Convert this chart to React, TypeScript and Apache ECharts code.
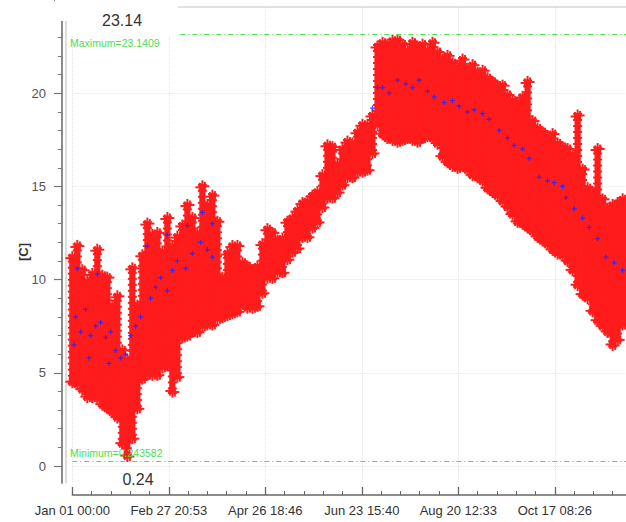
import React, { useEffect, useRef } from "react";
import * as echarts from "echarts";

// ---- data ----
const xTickLabels = ["Jan 01 00:00", "Feb 27 20:53", "Apr 26 18:46", "Jun 23 15:40", "Aug 20 12:33", "Oct 17 08:26"];
const TICK_SECONDS = 5000000;
const SECONDS_PER_DAY = 86400;
const STEP_DAYS = 3;
const X_MAX_DAYS = 365;

const days = [0, 3, 6, 9, 12, 15, 18, 21, 24, 27, 30, 33, 36, 39, 42, 45, 48, 51, 54, 57, 60, 63, 66, 69, 72, 75, 78, 81, 84, 87, 90, 93, 96, 99, 102, 105, 108, 111, 114, 117, 120, 123, 126, 129, 132, 135, 138, 141, 144, 147, 150, 153, 156, 159, 162, 165, 168, 171, 174, 177, 180, 183, 186, 189, 192, 195, 198, 201, 204, 207, 210, 213, 216, 219, 222, 225, 228, 231, 234, 237, 240, 243, 246, 249, 252, 255, 258, 261, 264, 267, 270, 273, 276, 279, 282, 285, 288, 291, 294, 297, 300, 303, 306, 309, 312, 315, 318, 321, 324, 327, 330, 333];

const lows = [4.2, 4.1, 3.8, 3.4, 3.4, 3.4, 3.0, 2.8, 2.6, 2.3, 0.9, 0.24, 1.2, 2.8, 4.4, 4.6, 4.6, 4.6, 5.0, 5.1, 3.7, 4.5, 6.6, 6.7, 6.9, 6.9, 7.2, 7.3, 7.3, 7.6, 7.7, 7.8, 7.9, 8.0, 8.4, 8.2, 8.2, 8.3, 9.0, 9.8, 9.8, 10.1, 10.1, 10.8, 11.2, 11.4, 12.0, 12.0, 12.5, 12.8, 13.6, 14.1, 14.1, 14.4, 14.8, 15.2, 15.2, 15.5, 15.5, 15.6, 16.5, 18.0, 17.5, 17.3, 17.2, 17.1, 17.2, 17.3, 17.2, 17.1, 17.3, 17.4, 17.3, 17.0, 16.3, 16.0, 15.8, 15.7, 15.8, 15.6, 15.3, 15.2, 15.0, 14.6, 14.4, 14.2, 13.9, 13.6, 13.2, 12.8, 12.7, 12.5, 12.3, 12.0, 11.8, 11.6, 11.3, 11.1, 11.0, 10.7, 10.2, 9.4, 8.9, 8.7, 8.0, 7.5, 7.2, 6.9, 6.2, 6.5, 7.3, 7.5];

const highs = [11.5, 12.1, 10.8, 10.2, 10.6, 11.9, 10.5, 10.4, 8.9, 9.4, 6.5, 6.0, 10.9, 8.9, 11.6, 13.3, 12.7, 12.8, 11.8, 13.6, 12.1, 12.6, 13.2, 14.3, 13.6, 12.8, 15.3, 14.3, 14.8, 13.4, 10.4, 11.7, 12.1, 12.1, 11.2, 11.0, 10.8, 11.0, 12.2, 13.0, 12.8, 12.4, 12.5, 13.4, 13.6, 14.0, 14.4, 14.5, 14.8, 15.0, 15.9, 17.5, 17.4, 16.5, 17.3, 17.7, 17.6, 18.2, 18.6, 18.6, 19.1, 22.8, 23.0, 22.9, 23.1, 23.14, 22.9, 22.6, 23.0, 22.8, 22.9, 22.6, 23.0, 22.5, 22.1, 22.3, 21.9, 21.7, 22.1, 21.6, 21.8, 21.4, 21.5, 21.1, 20.9, 20.7, 20.7, 20.2, 19.9, 19.8, 20.1, 20.9, 18.8, 18.4, 18.2, 18.0, 18.1, 17.6, 17.4, 17.3, 17.0, 19.1, 16.2, 15.2, 15.0, 17.3, 14.6, 14.1, 14.3, 14.4, 14.6, 14.5];

const meanDays = [1, 2, 3, 5, 8, 10, 11, 14, 15, 17, 20, 22, 23, 26, 29, 32, 35, 38, 41, 45, 47, 50, 53, 57, 57, 60, 63, 68, 69, 72, 77, 78, 81, 84, 84, 180, 183, 186, 190, 195, 200, 204, 208, 213, 217, 223, 228, 232, 237, 241, 246, 250, 256, 261, 265, 270, 274, 280, 285, 289, 294, 296, 301, 306, 310, 315, 320, 325, 330];
const meanValues = [6.5, 8.0, 10.6, 7.2, 8.4, 5.8, 7.0, 7.5, 10.3, 7.7, 6.9, 5.5, 7.2, 6.2, 5.8, 6.0, 7.0, 7.5, 8.0, 11.8, 9.0, 9.6, 10.1, 9.4, 12.4, 10.5, 11.0, 10.6, 12.9, 11.4, 12.0, 13.6, 11.6, 11.2, 13.0, 19.2, 20.3, 20.3, 20.0, 20.7, 20.5, 20.3, 20.7, 20.1, 19.8, 19.5, 19.6, 19.3, 19.0, 19.1, 18.9, 18.6, 18.0, 17.6, 17.2, 17.0, 16.5, 15.5, 15.3, 15.2, 15.0, 14.4, 13.8, 13.3, 12.8, 12.2, 11.2, 10.9, 10.5];

const maxValue = 23.1409;
const minValue = 0.243582;

// ---- styling constants ----
const RED = "#ff1c1c";
const BLUE = "#2626ff";
const GREEN = "#4fdc4f";
const FONT = "Liberation Sans, Arial, sans-serif";

function plus(cx: number, cy: number) {
  return [
    { type: "rect", shape: { x: cx - 4.5, y: cy - 1, width: 9, height: 2 }, style: { fill: RED } },
    { type: "rect", shape: { x: cx - 1, y: cy - 4.5, width: 2, height: 9 }, style: { fill: RED } },
  ];
}

export default function App() {
  const ref = useRef<HTMLDivElement>(null);

  useEffect(() => {
    if (!ref.current) return;
    const chart = echarts.init(ref.current, null, { renderer: "svg" });

    const bandData = days.map((d, i) => [d * SECONDS_PER_DAY, lows[i], highs[i]]);
    const meanData = meanDays.map((d, i) => [d * SECONDS_PER_DAY, meanValues[i]]);
    const xMax = X_MAX_DAYS * SECONDS_PER_DAY;

    const xFormatter = (v: number) => {
      if (Math.abs(v % TICK_SECONDS) > 1e-6) return "";
      return xTickLabels[Math.round(v / TICK_SECONDS)] ?? "";
    };

    const option: any = {
      animation: false,
      textStyle: { fontFamily: FONT },
      grid: [
        { left: 72.3, right: 39, top: 7, bottom: 39 },
        { left: 72.3, right: 39, top: 0, bottom: 56 },
      ],
      xAxis: [
        {
          type: "value", gridIndex: 0, min: 0, max: xMax, interval: TICK_SECONDS, offset: 12,
          axisLine: { onZero: false, lineStyle: { color: "#666", width: 1.5 } },
          axisTick: { inside: true, length: 8, lineStyle: { color: "#666", width: 1.3 } },
          minorTick: { show: true, splitNumber: 5, length: 4, lineStyle: { color: "#666", width: 1 } },
          axisLabel: { formatter: xFormatter, color: "#333", fontSize: 13, margin: 9, showMaxLabel: false },
          splitLine: { show: true, lineStyle: { color: "#e2e2e2", type: "dotted" } },
        },
        { type: "value", gridIndex: 1, min: 0, max: xMax, show: false },
      ],
      yAxis: [
        {
          type: "value", gridIndex: 0, min: -0.912, max: 24.624, offset: 10.3,
          axisLine: { show: true, onZero: false, lineStyle: { color: "#8a8a8a", width: 2 } },
          axisTick: { show: false }, axisLabel: { show: false }, splitLine: { show: false },
        },
        {
          type: "value", gridIndex: 1, min: 0, max: 25, interval: 5, offset: 10.3,
          axisLine: { show: false, onZero: false },
          axisTick: { show: true, length: 8, lineStyle: { color: "#777", width: 1.2 } },
          minorTick: { show: true, splitNumber: 5, length: 4, lineStyle: { color: "#777", width: 1 } },
          axisLabel: { color: "#555", fontSize: 13, margin: 16, showMaxLabel: false },
          splitLine: { show: true, showMaxLine: false, lineStyle: { color: "#e6e6e6", type: "dotted" } },
        },
      ],
      series: [
        {
          type: "custom",
          xAxisIndex: 0, yAxisIndex: 0,
          silent: true,
          z: 2,
          encode: { x: 0, y: [1, 2] },
          data: bandData,
          renderItem: (params: any, api: any) => {
            const x = api.value(0);
            const lo = api.value(1);
            const hi = api.value(2);
            const pTop = api.coord([x, hi]);
            const pBot = api.coord([x, lo]);
            const w = api.size([STEP_DAYS * SECONDS_PER_DAY, 0])[0];
            const cx = pTop[0];
            let top = pTop[1] + 4;
            let bot = pBot[1] - 4;
            if (bot < top) { const m = (top + bot) / 2; top = m; bot = m; }
            const children: any[] = [
              { type: "rect", shape: { x: cx - w / 2 - 0.6, y: top, width: w + 1.2, height: bot - top }, style: { fill: RED } },
            ];
            for (let y = top; y < bot; y += 6) children.push(...plus(cx, y));
            children.push(...plus(cx, bot));
            children.push(...plus(cx - w / 2, top + 2.5), ...plus(cx + w / 2, top + 1.5));
            children.push(...plus(cx - w / 2, bot - 2), ...plus(cx + w / 2, bot - 1));
            return { type: "group", children };
          },
        },
        {
          type: "scatter",
          xAxisIndex: 0, yAxisIndex: 0,
          z: 3,
          symbol: "path://M3,0h2v3h3v2h-3v3h-2v-3h-3v-2h3z",
          symbolSize: 5,
          itemStyle: { color: BLUE, opacity: 0.85 },
          data: meanData,
          markLine: {
            silent: true,
            symbol: "none",
            label: { show: false },
            lineStyle: { color: GREEN, type: [5, 3, 1, 3], width: 1 },
            data: [{ yAxis: maxValue }, { yAxis: minValue }],
          },
        },
      ],
      graphic: [
        { type: "line", z: 1, shape: { x1: 66, y1: 7, x2: 720, y2: 7 }, style: { stroke: "#c4c4c4", lineWidth: 1 } },
        { type: "line", z: 1, shape: { x1: 66, y1: 7, x2: 66, y2: 483 }, style: { stroke: "#d2d2d2", lineWidth: 1.5 } },
        { type: "rect", z: 100, shape: { x: 55, y: 0, width: 123, height: 21 }, style: { fill: "#fff" } },
        { type: "rect", z: 100, shape: { x: 67, y: 21, width: 111, height: 15 }, style: { fill: "#fff" } },
        { type: "text", z: 101, x: 122, y: 20, style: { text: maxValue.toFixed(2), fontSize: 16, fontFamily: FONT, fill: "#333", align: "center", verticalAlign: "middle" } },
        { type: "text", z: 101, x: 138, y: 479, style: { text: minValue.toFixed(2), fontSize: 16, fontFamily: FONT, fill: "#333", align: "center", verticalAlign: "middle" } },
        { type: "text", z: 101, x: 70, y: 43, style: { text: "Maximum=" + maxValue, fontSize: 10.5, fontFamily: FONT, fill: GREEN, align: "left", verticalAlign: "middle" } },
        { type: "text", z: 101, x: 70, y: 453, style: { text: "Minimum=" + minValue, fontSize: 10.5, fontFamily: FONT, fill: GREEN, align: "left", verticalAlign: "middle" } },
        { type: "text", z: 101, x: 23, y: 252, rotation: Math.PI / 2, style: { text: "[C]", fontSize: 13, fontWeight: "bold", fontFamily: FONT, fill: "#333", align: "center", verticalAlign: "middle" } },
      ],
    };

    chart.setOption(option);
    return () => chart.dispose();
  }, []);

  return (
    <div style={{ position: "fixed", left: 0, top: 0, width: 626, height: 522, overflow: "hidden", background: "#fff" }}>
      <div ref={ref} style={{ width: 720, height: 522 }} />
    </div>
  );
}
